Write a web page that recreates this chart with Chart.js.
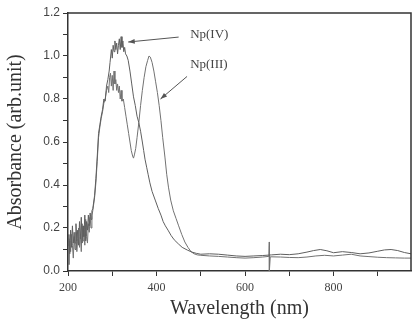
<!DOCTYPE html>
<html>
<head>
<meta charset="utf-8">
<script src="https://cdn.jsdelivr.net/npm/chart.js@4.4.0/dist/chart.umd.min.js"></script>
<style>
  body { margin: 0; background: #fff; }
  canvas { display: block; }
</style>
</head>
<body>
<canvas id="spectrum" width="412" height="326"></canvas>
<script>
// Np(IV) absorption spectrum
var wlIV = [200,202,204,206,208,210,212,214,216,218,220,222,224,226,228,230,232,234,236,238,240,242,244,246,248,250,252,254,256,
  260,263,266,269,272,275,278,281,284,287,290,293,295,298,300,302,304,306,308,310,312,314,316,318,320,322,324,326,328,330,
  333,336,340,344,348,352,356,360,364,368,371,374,378,381,385,390,397,404,410,415,420,426,433,440,450,458,470,480,490,500,
  520,540,560,580,600,620,640,660,680,700,720,740,755,770,785,800,820,840,860,880,900,915,930,945,960,975];
var absIV = [0.12,0.17,0.08,0.19,0.11,0.21,0.13,0.18,0.10,0.22,0.14,0.19,0.12,0.23,0.15,0.25,0.13,0.21,0.16,0.26,0.14,0.23,0.19,0.26,0.21,0.27,0.24,0.28,0.29,
  0.35,0.43,0.53,0.64,0.68,0.72,0.75,0.80,0.79,0.86,0.89,0.93,0.97,1.03,0.99,1.05,1.02,1.07,1.03,1.06,1.01,1.05,1.08,1.03,1.09,1.04,1.07,1.02,1.04,1.01,
  1.00,0.98,0.93,0.87,0.81,0.77,0.72,0.69,0.65,0.60,0.56,0.52,0.48,0.45,0.41,0.37,0.33,0.29,0.26,0.23,0.21,0.19,0.165,0.145,0.125,0.11,0.097,0.088,0.082,0.078,
  0.08,0.078,0.074,0.07,0.068,0.07,0.072,0.075,0.078,0.076,0.08,0.088,0.095,0.10,0.094,0.085,0.09,0.086,0.08,0.084,0.092,0.098,0.10,0.095,0.086,0.08];

// Np(III) absorption spectrum
var wlIII = [200,202,204,206,208,210,212,214,216,218,220,222,224,226,228,230,232,234,236,238,240,242,244,246,248,250,252,254,256,
  260,263,266,269,272,275,278,281,284,287,290,292,294,296,298,300,302,304,306,308,310,312,314,316,318,320,322,325,328,331,
  334,337,340,343,346,348,350,353,356,360,364,368,372,376,380,383,386,390,394,398,402,406,410,414,419,423,427,432,438,444,
  450,457,464,471,478,485,492,500,
  520,540,560,580,600,620,640,654,655,655,657,680,700,720,740,760,780,800,820,840,860,880,900,920,940,960,975];
var absIII = [0.15,0.03,0.14,0.09,0.17,0.12,0.06,0.16,0.13,0.18,0.09,0.15,0.20,0.11,0.17,0.09,0.22,0.14,0.19,0.12,0.24,0.16,0.13,0.22,0.18,0.25,0.20,0.26,0.28,
  0.34,0.41,0.51,0.62,0.67,0.71,0.74,0.78,0.80,0.84,0.86,0.83,0.90,0.92,0.86,0.91,0.84,0.93,0.87,0.89,0.84,0.87,0.83,0.86,0.80,0.84,0.79,0.80,0.76,0.72,
  0.68,0.64,0.60,0.56,0.535,0.525,0.54,0.57,0.62,0.69,0.77,0.84,0.90,0.95,0.98,1.00,0.995,0.97,0.93,0.88,0.83,0.77,0.70,0.62,0.53,0.45,0.39,0.33,0.28,0.245,
  0.21,0.17,0.135,0.11,0.09,0.08,0.075,0.073,
  0.07,0.068,0.065,0.062,0.06,0.062,0.065,0.068,0.135,0.0,0.066,0.065,0.063,0.062,0.065,0.07,0.073,0.07,0.074,0.078,0.07,0.067,0.064,0.062,0.061,0.06,0.06];

var xMajor = [200, 400, 600, 800];
var xMinor = [300, 500, 700, 900];
var yMajor = [0, 0.2, 0.4, 0.6, 0.8, 1.0, 1.2];
var yMinor = [0.1, 0.3, 0.5, 0.7, 0.9, 1.1];

function toPoints(wl, abs) {
  return wl.map((w, i) => ({ x: w, y: abs[i] }));
}

function arrow(ctx, x1, y1, x2, y2) {
  var ang = Math.atan2(y2 - y1, x2 - x1);
  ctx.beginPath();
  ctx.moveTo(x1, y1);
  ctx.lineTo(x2, y2);
  ctx.stroke();
  ctx.beginPath();
  ctx.moveTo(x2, y2);
  ctx.lineTo(x2 - 7 * Math.cos(ang - 0.35), y2 - 7 * Math.sin(ang - 0.35));
  ctx.lineTo(x2 - 7 * Math.cos(ang + 0.35), y2 - 7 * Math.sin(ang + 0.35));
  ctx.closePath();
  ctx.fill();
}

const frameAndNotes = {
  id: 'frameAndNotes',
  afterDatasetsDraw(chart) {
    const { ctx, chartArea: a, scales: { x, y } } = chart;
    ctx.save();
    ctx.strokeStyle = '#333';
    ctx.lineWidth = 1.5;
    ctx.beginPath();
    ctx.moveTo(a.left, a.top);
    ctx.lineTo(a.right, a.top);
    ctx.lineTo(a.right, a.bottom);
    ctx.stroke();

    ctx.fillStyle = '#444';
    ctx.font = '13px "Liberation Serif", serif';
    ctx.textBaseline = 'middle';
    ctx.fillText('Np(IV)', x.getPixelForValue(476), y.getPixelForValue(1.098));
    ctx.fillText('Np(III)', x.getPixelForValue(476), y.getPixelForValue(0.958));

    ctx.strokeStyle = '#555';
    ctx.fillStyle = '#555';
    ctx.lineWidth = 1;
    arrow(ctx, x.getPixelForValue(450), y.getPixelForValue(1.088), x.getPixelForValue(336), y.getPixelForValue(1.065));
    arrow(ctx, x.getPixelForValue(469), y.getPixelForValue(0.905), x.getPixelForValue(409), y.getPixelForValue(0.80));
    ctx.restore();
  }
};

new Chart(document.getElementById('spectrum'), {
  type: 'line',
  data: {
    datasets: [{
      label: 'Np(IV)',
      data: toPoints(wlIV, absIV),
      borderColor: '#5f5f5f',
      borderWidth: 1,
      pointRadius: 0,
      tension: 0
    }, {
      label: 'Np(III)',
      data: toPoints(wlIII, absIII),
      borderColor: '#727272',
      borderWidth: 1,
      pointRadius: 0,
      tension: 0
    }]
  },
  options: {
    responsive: false,
    animation: false,
    layout: { padding: { top: 13, right: 1, left: 0, bottom: 0 } },
    plugins: { legend: { display: false }, tooltip: { enabled: false } },
    scales: {
      x: {
        type: 'linear',
        min: 200,
        max: 975,
        afterBuildTicks: s => { s.ticks = xMajor.concat(xMinor).sort((a, b) => a - b).map(v => ({ value: v })); },
        afterFit: s => { s.height = 55; },
        ticks: {
          autoSkip: false,
          maxRotation: 0,
          padding: 5,
          color: '#444',
          font: { family: '"Liberation Serif", serif', size: 12 },
          callback: v => xMajor.includes(v) ? String(v) : ''
        },
        grid: { drawOnChartArea: false, drawTicks: true, tickLength: 5, color: '#333' },
        border: { color: '#333', width: 1.5 },
        title: {
          display: true,
          text: 'Wavelength (nm)',
          color: '#333',
          font: { family: '"Liberation Serif", serif', size: 20 },
          padding: { top: 0, bottom: 5 }
        }
      },
      y: {
        min: 0,
        max: 1.2,
        afterBuildTicks: s => { s.ticks = yMajor.concat(yMinor).sort((a, b) => a - b).map(v => ({ value: v })); },
        afterFit: s => { s.width = 68; },
        ticks: {
          autoSkip: false,
          padding: 3,
          color: '#444',
          font: { family: '"Liberation Sans", Arial, sans-serif', size: 12 },
          callback: v => yMajor.some(m => Math.abs(m - v) < 1e-6) ? v.toFixed(1) : ''
        },
        grid: { drawOnChartArea: false, drawTicks: true, tickLength: 5, color: '#333' },
        border: { color: '#333', width: 1.5 },
        title: {
          display: true,
          text: 'Absorbance (arb.unit)',
          color: '#333',
          font: { family: '"Liberation Serif", serif', size: 20 },
          padding: { top: 4, bottom: 0 }
        }
      }
    }
  },
  plugins: [frameAndNotes]
});
</script>
</body>
</html>
